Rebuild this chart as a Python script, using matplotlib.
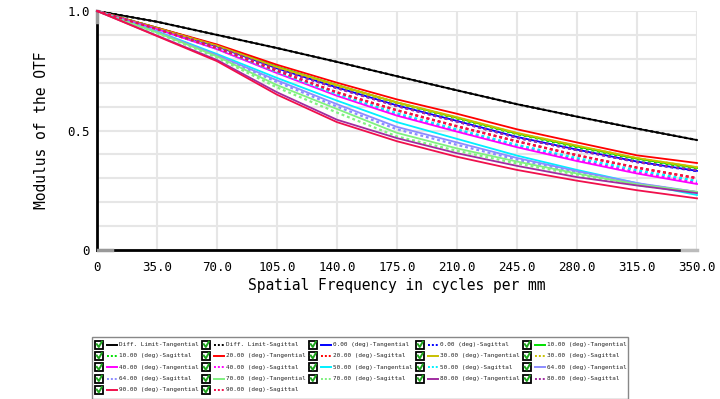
import matplotlib
matplotlib.use('Agg')
import matplotlib.pyplot as plt
from matplotlib.patches import Rectangle
from matplotlib.lines import Line2D
import numpy as np

# spatial frequency samples (cycles/mm)
freq = [0, 35, 70, 105, 140, 175, 210, 245, 280, 315, 350]

# MTF values
diff_t = [1.0, 0.955, 0.90, 0.845, 0.787, 0.727, 0.668, 0.61, 0.558, 0.508, 0.46]
diff_s = [1.0, 0.955, 0.90, 0.845, 0.787, 0.727, 0.668, 0.61, 0.558, 0.508, 0.46]
f00_t = [1.0, 0.927, 0.852, 0.76, 0.68, 0.605, 0.54, 0.473, 0.42, 0.37, 0.331]
f00_s = [1.0, 0.927, 0.851, 0.758, 0.678, 0.603, 0.538, 0.47, 0.418, 0.368, 0.33]
f10_t = [1.0, 0.93, 0.857, 0.767, 0.69, 0.617, 0.553, 0.487, 0.433, 0.382, 0.343]
f10_s = [1.0, 0.929, 0.855, 0.765, 0.688, 0.615, 0.55, 0.485, 0.43, 0.38, 0.34]
f20_t = [1.0, 0.93, 0.86, 0.775, 0.70, 0.63, 0.57, 0.505, 0.45, 0.396, 0.364]
f20_s = [1.0, 0.925, 0.845, 0.75, 0.66, 0.585, 0.518, 0.455, 0.397, 0.345, 0.301]
f30_t = [1.0, 0.928, 0.855, 0.765, 0.69, 0.618, 0.556, 0.49, 0.437, 0.385, 0.347]
f30_s = [1.0, 0.928, 0.853, 0.763, 0.688, 0.615, 0.553, 0.488, 0.435, 0.384, 0.345]
f40_t = [1.0, 0.924, 0.84, 0.74, 0.645, 0.562, 0.495, 0.43, 0.372, 0.32, 0.276]
f40_s = [1.0, 0.924, 0.842, 0.743, 0.65, 0.567, 0.50, 0.436, 0.378, 0.326, 0.282]
f50_t = [1.0, 0.915, 0.82, 0.72, 0.625, 0.535, 0.465, 0.395, 0.335, 0.28, 0.23]
f50_s = [1.0, 0.925, 0.843, 0.745, 0.652, 0.572, 0.505, 0.44, 0.385, 0.334, 0.289]
f64_t = [1.0, 0.913, 0.815, 0.71, 0.61, 0.515, 0.45, 0.385, 0.33, 0.28, 0.243]
f64_s = [1.0, 0.912, 0.812, 0.703, 0.60, 0.505, 0.44, 0.378, 0.325, 0.277, 0.242]
f70_t = [1.0, 0.91, 0.81, 0.69, 0.59, 0.49, 0.425, 0.37, 0.32, 0.275, 0.243]
f70_s = [1.0, 0.908, 0.805, 0.68, 0.575, 0.475, 0.415, 0.362, 0.315, 0.272, 0.24]
f80_t = [1.0, 0.897, 0.795, 0.66, 0.545, 0.468, 0.405, 0.352, 0.305, 0.27, 0.238]
f80_s = [1.0, 0.926, 0.85, 0.757, 0.677, 0.602, 0.537, 0.47, 0.418, 0.368, 0.333]
f90_t = [1.0, 0.895, 0.79, 0.65, 0.535, 0.455, 0.39, 0.335, 0.29, 0.25, 0.216]
f90_s = [1.0, 0.924, 0.844, 0.749, 0.659, 0.584, 0.517, 0.454, 0.396, 0.344, 0.30]

labels = ['Diff. Limit-Tangential', 'Diff. Limit-Sagittal',
          '0.00 (deg)-Tangential', '0.00 (deg)-Sagittal',
          '10.00 (deg)-Tangential', '10.00 (deg)-Sagittal',
          '20.00 (deg)-Tangential', '20.00 (deg)-Sagittal',
          '30.00 (deg)-Tangential', '30.00 (deg)-Sagittal',
          '40.00 (deg)-Tangential', '40.00 (deg)-Sagittal',
          '50.00 (deg)-Tangential', '50.00 (deg)-Sagittal',
          '64.00 (deg)-Tangential', '64.00 (deg)-Sagittal',
          '70.00 (deg)-Tangential', '70.00 (deg)-Sagittal',
          '80.00 (deg)-Tangential', '80.00 (deg)-Sagittal',
          '90.00 (deg)-Tangential', '90.00 (deg)-Sagittal']
series = [diff_t, diff_s, f00_t, f00_s, f10_t, f10_s, f20_t, f20_s,
          f30_t, f30_s, f40_t, f40_s, f50_t, f50_s, f64_t, f64_s,
          f70_t, f70_s, f80_t, f80_s, f90_t, f90_s]
field_colors = ['black', '#0000ff', '#00e000', '#ff0000', '#c8c000', '#ff00ff',
                '#00f0ff', '#8c8cff', '#80f080', '#a02ca0', '#f0104c']

W, H = 720, 399
fig = plt.figure(figsize=(W / 100, H / 100), dpi=100)
ax = fig.add_axes([97 / W, 1 - 250 / H, 600 / W, 239 / H])

mono = 'DejaVu Sans Mono'
lines = []
for i, (ys, lab) in enumerate(zip(series, labels)):
    col = field_colors[i // 2]
    ls = '-' if i % 2 == 0 else (0, (1.3, 1.3))
    lw = 1.3 if i % 2 == 0 else 1.6
    ln, = ax.plot(freq, ys, color=col, linestyle=ls, linewidth=lw, label=lab, clip_on=False)
    lines.append(ln)

ax.set_xlim(0, 350)
ax.set_ylim(0, 1.0)
ax.set_xticks(np.arange(0, 351, 35))
ax.set_xticklabels(['0'] + [f'{v:.1f}' for v in np.arange(35, 351, 35)], family=mono, fontsize=9)
ax.set_yticks([0, 0.5, 1.0])
ax.set_yticklabels(['0', '0.5', '1.0'], family=mono, fontsize=9)
ax.set_yticks(np.arange(0, 1.01, 0.1), minor=True)
ax.tick_params(axis='both', which='both', length=0)
ax.tick_params(axis='x', pad=8)
ax.tick_params(axis='y', pad=5)
ax.grid(which='both', color='#e6e6e6', linewidth=1.5)
ax.set_axisbelow(True)
for s in ['top', 'right']:
    ax.spines[s].set_visible(False)
for s in ['left', 'bottom']:
    ax.spines[s].set_linewidth(2)
    ax.spines[s].set_zorder(1)

# grey scroll marks at the ends of the axes
ax.plot([0, 0], [0.955, 1.0], transform=ax.transAxes, color='#999999', lw=2.5, clip_on=False, zorder=1.5)
ax.plot([0.002, 0.025], [0.0, 0.0], transform=ax.transAxes, color='#999999', lw=2.5, clip_on=False, zorder=1.5)
ax.plot([0.975, 1.0], [0.0, 0.0], transform=ax.transAxes, color='#bbbbbb', lw=2.5, clip_on=False, zorder=1.5)

ax.set_xlabel('Spatial Frequency in cycles per mm', family=mono, fontsize=10.5, labelpad=3)
ax.set_ylabel('Modulus of the OTF', family=mono, fontsize=10.5, labelpad=13)

# legend panel with check boxes
fig.add_artist(Rectangle((92 / W, 0), (628 - 92) / W, 1 - 337 / H, transform=fig.transFigure,
                         facecolor='white', edgecolor='#888888', linewidth=1))
for i, ln in enumerate(lines):
    r, c = divmod(i, 5)
    x0 = 95 + c * 107
    yc = 344.5 + r * 11.35
    fig.add_artist(Rectangle((x0 / W, 1 - (yc + 4) / H), 8 / W, 8 / H, transform=fig.transFigure,
                             facecolor='white', edgecolor='black', linewidth=1.3))
    fig.add_artist(Line2D([(x0 + 1.8) / W, (x0 + 3.8) / W, (x0 + 6.8) / W],
                          [1 - (yc - 0.3) / H, 1 - (yc + 2.5) / H, 1 - (yc - 2.8) / H],
                          transform=fig.transFigure, color='#1fa51f', linewidth=1.4))
    leg_ls = '-' if i % 2 == 0 else (0, (1, 1))
    fig.add_artist(Line2D([(x0 + 12) / W, (x0 + 22) / W], [1 - yc / H, 1 - yc / H],
                          transform=fig.transFigure, color=ln.get_color(),
                          linestyle=leg_ls, linewidth=1.4))
    fig.text((x0 + 24) / W, 1 - yc / H, ln.get_label(), family=mono, fontsize=4.3,
             va='center', ha='left', color='#222222')

fig.savefig('out.png', dpi=100)
